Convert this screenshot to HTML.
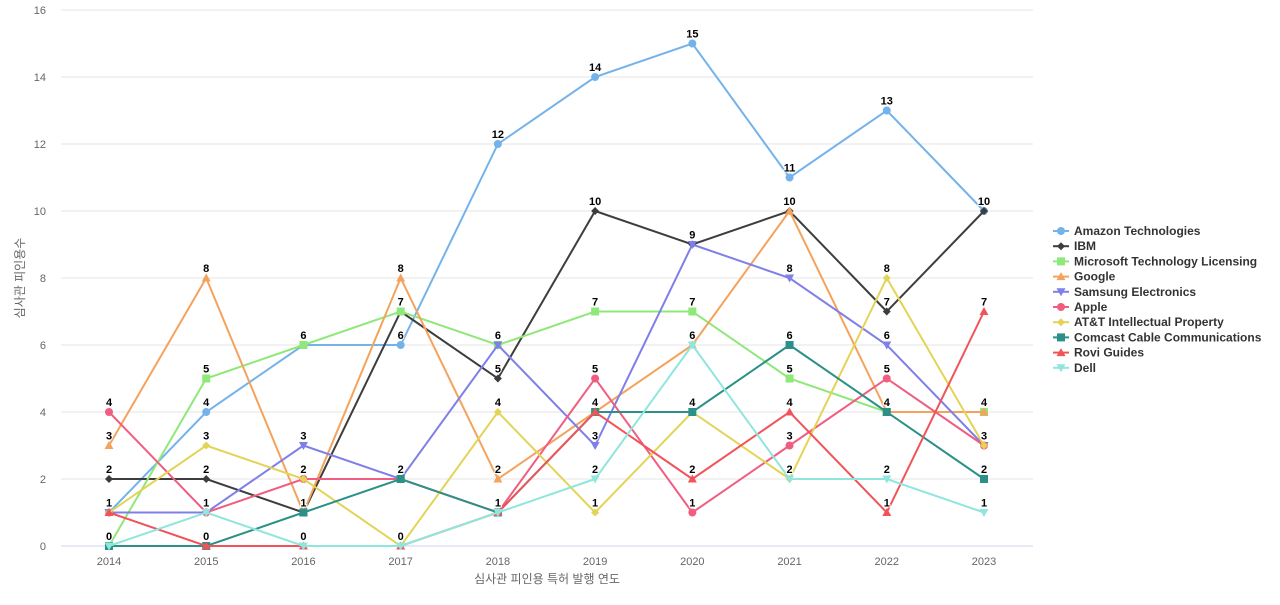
<!DOCTYPE html>
<html><head><meta charset="utf-8">
<style>
body{margin:0;background:#fff;font-family:"Liberation Sans","Noto Sans CJK KR",sans-serif;}
svg text{font-family:"Liberation Sans","Noto Sans CJK KR",sans-serif;}
</style></head>
<body>
<svg id="chart" width="1280" height="600"></svg>
<script>
const years=[2014,2015,2016,2017,2018,2019,2020,2021,2022,2023];
const yTicks=[0,2,4,6,8,10,12,14,16];
const seriesNames=["Amazon Technologies","IBM","Microsoft Technology Licensing","Google","Samsung Electronics","Apple","AT&T Intellectual Property","Comcast Cable Communications","Rovi Guides","Dell"];
const amazon=[1,4,6,6,12,14,15,11,13,10];
const ibm=[2,2,1,7,5,10,9,10,7,10];
const microsoft=[0,5,6,7,6,7,7,5,4,4];
const google=[3,8,1,8,2,4,6,10,4,4];
const samsung=[1,1,3,2,6,3,9,8,6,3];
const apple=[4,1,2,2,1,5,1,3,5,3];
const att=[1,3,2,0,4,1,4,2,8,3];
const comcast=[0,0,1,2,1,4,4,6,4,2];
const rovi=[1,0,0,0,1,4,2,4,1,7];
const dell=[0,1,0,0,1,2,6,2,2,1];
const allSeries=[amazon,ibm,microsoft,google,samsung,apple,att,comcast,rovi,dell];
const colors=["#74b3ea","#3d3d3d","#8fe87a","#f5a25d","#7f7fe8","#f05d80","#e3d456","#2a9088","#f05459","#8fe6dc"];
const shapes=["circle","diamond","square","triangle","tridown","circle","diamond","square","triangle","tridown"];
const NS="http://www.w3.org/2000/svg";
const svg=document.getElementById('chart');
const x0=109,x1=984,yb=546,yt=10;
const xs=i=>x0+(x1-x0)*i/(years.length-1);
const ys=v=>yb-(yb-yt)*v/16;
function mk(tag,attrs,parent){const e=document.createElementNS(NS,tag);for(const k in attrs)e.setAttribute(k,attrs[k]);(parent||svg).appendChild(e);return e;}
function marker(shape,cx,cy,color,g){
  if(shape==="circle")return mk('circle',{cx,cy,r:4,fill:color},g);
  if(shape==="square")return mk('rect',{x:cx-4,y:cy-4,width:8,height:8,fill:color},g);
  if(shape==="diamond")return mk('path',{d:`M${cx},${cy-4}L${cx+4},${cy}L${cx},${cy+4}L${cx-4},${cy}Z`,fill:color},g);
  if(shape==="triangle")return mk('path',{d:`M${cx},${cy-4.5}L${cx+4.5},${cy+3.5}L${cx-4.5},${cy+3.5}Z`,fill:color},g);
  return mk('path',{d:`M${cx},${cy+4.5}L${cx+4.5},${cy-3.5}L${cx-4.5},${cy-3.5}Z`,fill:color},g);
}
// grid
yTicks.forEach(v=>{
  const l=mk('line',{x1:61,x2:1033,y1:ys(v),y2:ys(v),stroke:v===0?'#ccd6eb':'#e6e6e6'});
  
  
  const t=mk('text',{x:46,y:ys(v)+4,'text-anchor':'end','font-size':11,fill:'#666'});
  t.textContent=v;
  
  
});
years.forEach((y,i)=>{
  const t=mk('text',{x:xs(i),y:565,'text-anchor':'middle','font-size':11,fill:'#666'});
  t.textContent=y;
  
  
});
const xt=mk('text',{x:547,y:583,'text-anchor':'middle','font-size':12,fill:'#666'});
xt.textContent='심사관 피인용 특허 발행 연도';


const yt2=mk('text',{x:24,y:278,'text-anchor':'middle','font-size':12,fill:'#666',transform:'rotate(-90 24 278)'});
yt2.textContent='심사관 피인용수';


// series
allSeries.forEach((data,s)=>{
  const g=mk('g',{});
  
  
  mk('polyline',{points:data.map((v,i)=>xs(i)+','+ys(v)).join(' '),fill:'none',stroke:colors[s],'stroke-width':2},g);
  data.forEach((v,i)=>{
    const m=marker(shapes[s],xs(i),ys(v),colors[s],g);
    
    
  });
});
allSeries.forEach((data,s)=>{
  data.forEach((v,i)=>{
    const t=mk('text',{x:xs(i),y:ys(v)-6,'text-anchor':'middle','font-size':11,'font-weight':'bold',fill:'#000',stroke:'#fff','stroke-width':2,'paint-order':'stroke'});
    t.textContent=v;
    
    
  });
});
// legend
seriesNames.forEach((n,s)=>{
  const g=mk('g',{});
  
  
  const cy=231+s*15.2;
  mk('line',{x1:1053,x2:1069,y1:cy,y2:cy,stroke:colors[s],'stroke-width':2},g);
  marker(shapes[s],1061,cy,colors[s],g);
  const t=mk('text',{x:1074,y:cy+4,'font-size':12,'font-weight':'bold',fill:'#333'},g);
  t.textContent=n;
});
</script>
</body></html>
